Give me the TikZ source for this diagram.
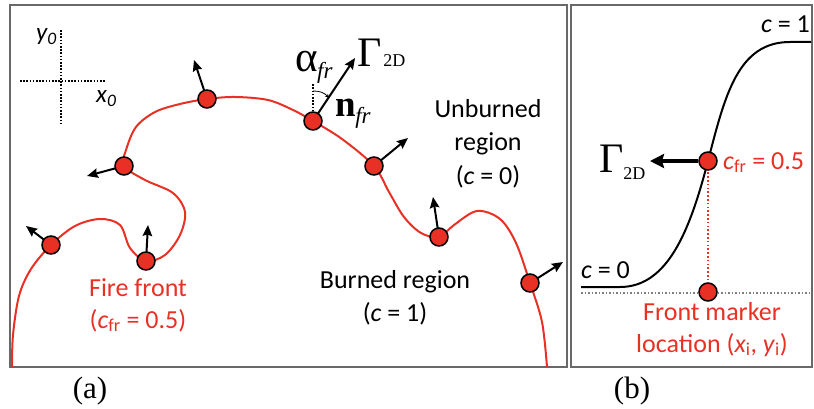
\documentclass[tikz,border=0pt]{standalone}
\usepackage{fontspec}
\setmainfont{Liberation Serif}
\newfontfamily\calib{Carlito}
\usetikzlibrary{arrows.meta}
\definecolor{firered}{RGB}{232,48,36}
\definecolor{framegray}{RGB}{105,105,105}
\begin{document}
\begin{tikzpicture}[x=1pt,y=-1pt,
  frontline/.style={draw=firered,line width=2pt,line join=round},
  marker/.style={circle,draw=black,fill=firered,line width=1.5pt,minimum size=18pt,inner sep=0pt},
  nrm/.style={draw=black,line width=2pt,-{Stealth[length=11pt,width=9.5pt,inset=1.5pt]}},
  thickarrow/.style={draw=black,line width=4.2pt,-{Stealth[length=14pt,width=14pt,inset=2pt]}},
  sans/.style={font=\calib\fontsize{26}{32}\selectfont,inner sep=0pt},
  redsans/.style={sans,text=firered},
  axlbl/.style={font=\calib\itshape\fontsize{25}{25}\selectfont,inner sep=0pt},
  axline/.style={draw=black,line width=1.5pt,dash pattern=on 1.6pt off 1.6pt},
  frame/.style={draw=framegray,line width=1.3pt},
  serif/.style={inner sep=0pt,anchor=base west}]
\useasboundingbox (0,0) rectangle (814,409);

% frames
\draw[frame] (10,5) rectangle (567,367);
\draw[frame] (571,5) rectangle (812,367);

% axes
\coordinate (ayt) at (61,30); \coordinate (ayb) at (61,124);
\coordinate (axl) at (20,81); \coordinate (axr) at (106,81);
\draw[axline] (ayt) -- (ayb);
\draw[axline] (axl) -- (axr);
\node[axlbl,anchor=base west] (ylab) at (36,41) {y\textsubscript{0}};
\node[axlbl,anchor=base west] (xlab) at (96,103) {x\textsubscript{0}};

% marker positions
\coordinate (p1) at (207,99);
\coordinate (p2) at (313,121);
\coordinate (p3) at (374,166);
\coordinate (p4) at (124,166);
\coordinate (p5) at (51,245);
\coordinate (p6) at (146,261);
\coordinate (p7) at (439,237);
\coordinate (p8) at (530,283);

% fire front curve
\draw[frontline] plot[smooth,tension=0.55] coordinates {
 (12,367) (13,335) (19,296) (31,269) (p5) (75,226) (100,219) (120,225)
 (130,248) (p6) (165,255) (180,235) (185,212) (173,193) (145,180) (p4)
 (126,150) (136,127) (155,112) (180,104) (p1) (235,97) (268,100) (293,110)
 (p2) (342,139) (p3) (389,192) (404,217) (421,233) (p7) (454,225) (477,211)
 (500,219) (516,243) (p8) (542,322) (547,367)};

% dotted reference at M2
\coordinate (dtop) at (313,83);
\draw[axline,line width=1.3pt] (p2) -- (dtop);

% normal arrow tips
\coordinate (t1) at (194,60);
\coordinate (t2) at (355,58);
\coordinate (t3) at (408,138);
\coordinate (t4) at (87,176);
\coordinate (t5) at (26,226);
\coordinate (t6) at (148,225);
\coordinate (t7) at (433,197);
\coordinate (t8) at (563,262);

\foreach \i in {1,...,8} {\draw[nrm] (p\i) -- (t\i);}

\coordinate (arcs) at (313,91);
\coordinate (arce) at (329,98);
\draw[black,line width=0.8pt,-{Stealth[length=4pt,width=4pt]}] (arcs) to[bend left=25] (arce);

\foreach \i in {1,...,8} {\node[marker] (m\i) at (p\i) {};}

% labels panel (a)
\node[serif,font=\fontsize{43}{43}\selectfont] (alpha) at (295,72) {α\kern-0.5pt{\itshape\fontsize{23}{23}\selectfont\raisebox{-7pt}{fr}}};
\node[serif,font=\fontsize{42}{42}\selectfont] (gam) at (357,67) {Γ\kern2pt{\fontsize{18}{18}\selectfont 2D}};
\node[serif,font=\fontsize{37}{37}\selectfont] (nfr) at (335,117) {\bfseries n\kern-0.5pt{\mdseries\itshape\fontsize{23}{23}\selectfont\raisebox{-7pt}{fr}}};

\node[sans,anchor=base] (unb1) at (488,118) {Unburned};
\node[sans,anchor=base] (unb2) at (488,151) {region};
\node[sans,anchor=base] (unb3) at (488,184) {(\textit{c} = 0)};

\node[sans,anchor=base] (bur1) at (395,288) {Burned region};
\node[sans,anchor=base] (bur2) at (395,321) {(\textit{c} = 1)};

\node[redsans,anchor=base] (ff1) at (138,296) {Fire front};
\node[redsans,anchor=base] (ff2) at (138,328) {(\textit{c}\textsubscript{fr} = 0.5)};

\node[serif,anchor=base,font=\fontsize{31}{31}\selectfont] (la) at (90,398) {(a)};

% panel (b)
\coordinate (s0) at (581,287);
\coordinate (s1) at (620,287);
\coordinate (s4) at (790,42);
\coordinate (s5) at (811,42);
\coordinate (bh) at (581,293);
\coordinate (bhe) at (811,293);
\draw[gray,line width=1.3pt,dash pattern=on 1.5pt off 2pt] (bh) -- (bhe);
\coordinate (bm) at (708,161);
\coordinate (bl) at (708,292);
\draw[firered,line width=1.6pt,dash pattern=on 1.6pt off 2.2pt] (bm) -- (bl);
\draw[black,line width=2pt] (s0) -- (s1) .. controls (668,287) and (690,230) .. (bm)
   .. controls (725,95) and (738,42) .. (s4) -- (s5);
\coordinate (btip) at (650,161);
\node[marker] (mb) at (bm) {};
\node[marker] (ml) at (bl) {};
\draw[thickarrow] (mb) -- (btip);

\node[serif,font=\fontsize{42}{42}\selectfont] (gamb) at (599,172) {Γ\kern0pt{\fontsize{18}{18}\selectfont\raisebox{-7pt}{2D}}};
\node[redsans,anchor=base west] (cfr) at (723,169) {\textit{c}\textsubscript{fr} = 0.5};
\node[sans,anchor=base east] (c1) at (810,33) {\textit{c} = 1};
\node[sans,anchor=base west] (c0) at (581,278) {\textit{c} = 0};
\node[redsans,anchor=base] (fm1) at (712,320) {Front marker};
\node[redsans,anchor=base] (fm2) at (712,352) {location (\textit{x}\textsubscript{i}, \textit{y}\textsubscript{i})};
\node[serif,anchor=base,font=\fontsize{31}{31}\selectfont] (lb) at (632,398) {(b)};
\end{tikzpicture}
\end{document}
